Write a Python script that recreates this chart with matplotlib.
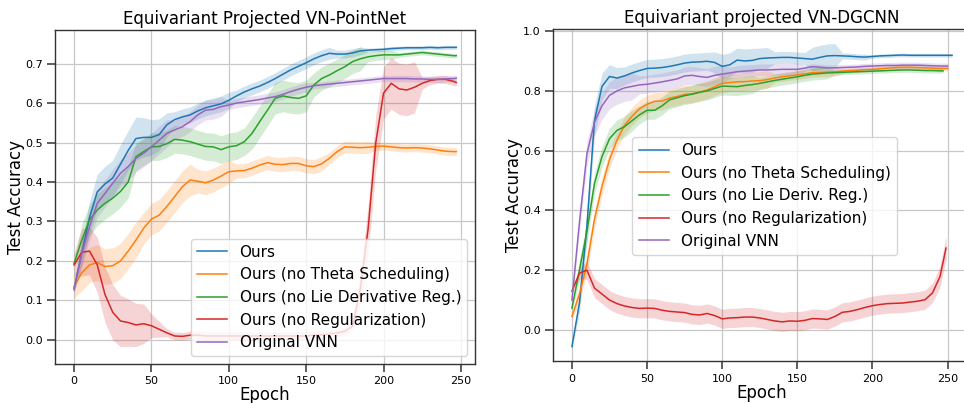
import matplotlib
matplotlib.use("Agg")
import matplotlib.pyplot as plt
import numpy as np

# ---- data (every 5 epochs) ----
labels_left = ["Ours", "Ours (no Theta Scheduling)", "Ours (no Lie Derivative Reg.)",
               "Ours (no Regularization)", "Original VNN"]
labels_right = ["Ours", "Ours (no Theta Scheduling)", "Ours (no Lie Deriv. Reg.)",
                "Ours (no Regularization)", "Original VNN"]
colors = ["#1f77b4", "#ff7f0e", "#2ca02c", "#d62728", "#9467bd"]

ep_left = np.append(np.arange(0, 246, 5), 247)

left_ours = [0.13, 0.22, 0.31, 0.375, 0.395, 0.41, 0.445, 0.48, 0.51, 0.513,
             0.513, 0.52, 0.545, 0.558, 0.565, 0.57, 0.58, 0.588, 0.593, 0.598,
             0.607, 0.618, 0.628, 0.636, 0.643, 0.652, 0.662, 0.673, 0.684, 0.693,
             0.702, 0.712, 0.72, 0.726, 0.724, 0.724, 0.727, 0.732, 0.734, 0.735,
             0.736, 0.738, 0.739, 0.74, 0.74, 0.74, 0.741, 0.74, 0.741, 0.741, 0.741]
left_ours_sd = [0.01, 0.03, 0.04, 0.045, 0.045, 0.045, 0.05, 0.05, 0.055, 0.05,
                0.045, 0.04, 0.03, 0.02, 0.02, 0.02, 0.02, 0.02, 0.02, 0.02,
                0.02, 0.015, 0.015, 0.015, 0.015, 0.015, 0.015, 0.015, 0.015, 0.015,
                0.015, 0.015, 0.015, 0.015, 0.01, 0.01, 0.01, 0.01, 0.005, 0.005,
                0.005, 0.005, 0.005, 0.005, 0.005, 0.005, 0.005, 0.005, 0.005, 0.005, 0.005]

left_theta = [0.135, 0.17, 0.19, 0.196, 0.186, 0.188, 0.2, 0.225, 0.253, 0.283,
              0.306, 0.316, 0.338, 0.363, 0.388, 0.405, 0.402, 0.398, 0.405, 0.415,
              0.426, 0.428, 0.429, 0.435, 0.443, 0.449, 0.445, 0.444, 0.447, 0.447,
              0.441, 0.439, 0.446, 0.46, 0.477, 0.489, 0.488, 0.487, 0.488, 0.49,
              0.491, 0.489, 0.487, 0.486, 0.487, 0.486, 0.484, 0.481, 0.478, 0.477, 0.477]
left_theta_sd = [0.03, 0.045, 0.045, 0.045, 0.045, 0.045, 0.045, 0.045, 0.045, 0.04,
                 0.04, 0.04, 0.04, 0.04, 0.04, 0.04, 0.03, 0.03, 0.03, 0.03,
                 0.03, 0.018, 0.018, 0.018, 0.018, 0.018, 0.018, 0.018, 0.018, 0.018,
                 0.018, 0.018, 0.018, 0.015, 0.015, 0.015, 0.015, 0.015, 0.015, 0.01,
                 0.01, 0.01, 0.01, 0.01, 0.01, 0.01, 0.01, 0.01, 0.01, 0.01, 0.01]

left_lie = [0.194, 0.253, 0.304, 0.329, 0.346, 0.359, 0.376, 0.40, 0.464, 0.477,
            0.489, 0.49, 0.497, 0.508, 0.506, 0.502, 0.496, 0.49, 0.489, 0.482,
            0.489, 0.492, 0.502, 0.523, 0.553, 0.582, 0.612, 0.618, 0.614, 0.612,
            0.618, 0.646, 0.662, 0.671, 0.682, 0.692, 0.705, 0.712, 0.717, 0.72,
            0.722, 0.722, 0.722, 0.724, 0.726, 0.728, 0.726, 0.724, 0.722, 0.72, 0.72]
left_lie_sd = [0.01, 0.04, 0.04, 0.04, 0.04, 0.04, 0.04, 0.04, 0.035, 0.035,
               0.035, 0.035, 0.035, 0.035, 0.035, 0.035, 0.035, 0.035, 0.035, 0.035,
               0.035, 0.035, 0.035, 0.04, 0.04, 0.04, 0.04, 0.04, 0.04, 0.04,
               0.04, 0.03, 0.03, 0.03, 0.03, 0.03, 0.03, 0.03, 0.012, 0.012,
               0.012, 0.012, 0.006, 0.006, 0.006, 0.006, 0.006, 0.006, 0.006, 0.006, 0.006]

left_noreg = [0.19, 0.222, 0.225, 0.19, 0.115, 0.07, 0.048, 0.044, 0.038, 0.041,
              0.036, 0.027, 0.018, 0.01, 0.009, 0.012, 0.012, 0.01, 0.01, 0.01,
              0.01, 0.01, 0.01, 0.01, 0.01, 0.01, 0.01, 0.01, 0.01, 0.01,
              0.01, 0.012, 0.013, 0.015, 0.018, 0.022, 0.035, 0.13, 0.28, 0.50,
              0.625, 0.65, 0.636, 0.633, 0.64, 0.65, 0.657, 0.66, 0.66, 0.655, 0.652]
left_noreg_sd = [0.03, 0.06, 0.06, 0.07, 0.07, 0.07, 0.065, 0.06, 0.055, 0.05,
                 0.03, 0.02, 0.01, 0.01, 0.01, 0.01, 0.01, 0.01, 0.01, 0.01,
                 0.01, 0.01, 0.01, 0.01, 0.01, 0.01, 0.01, 0.01, 0.01, 0.01,
                 0.01, 0.01, 0.01, 0.01, 0.01, 0.01, 0.01, 0.04, 0.06, 0.07,
                 0.065, 0.065, 0.065, 0.065, 0.065, 0.015, 0.01, 0.01, 0.01, 0.01, 0.01]

left_vnn = [0.127, 0.219, 0.287, 0.346, 0.371, 0.397, 0.422, 0.439, 0.46, 0.473,
            0.489, 0.506, 0.523, 0.532, 0.54, 0.553, 0.57, 0.582, 0.584, 0.591,
            0.595, 0.6, 0.603, 0.606, 0.609, 0.613, 0.616, 0.622, 0.629, 0.635,
            0.64, 0.644, 0.646, 0.648, 0.65, 0.652, 0.654, 0.656, 0.658, 0.66,
            0.662, 0.662, 0.662, 0.662, 0.661, 0.661, 0.66, 0.66, 0.661, 0.662, 0.663]
left_vnn_sd = [0.01, 0.035, 0.035, 0.035, 0.035, 0.035, 0.035, 0.035, 0.035, 0.035,
               0.035, 0.035, 0.035, 0.025, 0.025, 0.025, 0.025, 0.025, 0.025, 0.025,
               0.012, 0.012, 0.012, 0.012, 0.012, 0.012, 0.012, 0.012, 0.012, 0.012,
               0.012, 0.008, 0.008, 0.008, 0.008, 0.008, 0.008, 0.008, 0.008, 0.008,
               0.008, 0.008, 0.008, 0.008, 0.008, 0.008, 0.008, 0.008, 0.008, 0.008, 0.008]

ep_right = np.arange(0, 246, 5)
right_end = [253, 250, 247, 249, 250]

right_ours = [-0.056, 0.09, 0.35, 0.70, 0.815, 0.848, 0.843, 0.85, 0.86, 0.868,
              0.875, 0.876, 0.878, 0.882, 0.887, 0.893, 0.896, 0.897, 0.899, 0.895,
              0.882, 0.887, 0.903, 0.9, 0.902, 0.908, 0.91, 0.911, 0.912, 0.912,
              0.91, 0.908, 0.906, 0.912, 0.917, 0.918, 0.917, 0.916, 0.914, 0.913,
              0.915, 0.917, 0.918, 0.919, 0.92, 0.919, 0.919, 0.919, 0.919, 0.919, 0.919]
right_ours_sd = [0.01, 0.03, 0.05, 0.05, 0.045, 0.04, 0.035, 0.03, 0.03, 0.03,
                 0.03, 0.03, 0.03, 0.03, 0.03, 0.03, 0.03, 0.03, 0.03, 0.035,
                 0.04, 0.04, 0.04, 0.04, 0.04, 0.035, 0.035, 0.02, 0.02, 0.02,
                 0.02, 0.02, 0.04, 0.04, 0.04, 0.04, 0.01, 0.01, 0.01, 0.01,
                 0.006, 0.006, 0.006, 0.006, 0.006, 0.006, 0.006, 0.006, 0.006, 0.006, 0.006]

right_theta = [0.045, 0.12, 0.22, 0.37, 0.48, 0.57, 0.635, 0.685, 0.715, 0.74,
               0.755, 0.765, 0.766, 0.776, 0.781, 0.788, 0.79, 0.796, 0.803, 0.814,
               0.825, 0.828, 0.83, 0.831, 0.833, 0.834, 0.838, 0.843, 0.847, 0.85,
               0.853, 0.857, 0.861, 0.862, 0.863, 0.864, 0.866, 0.868, 0.869, 0.871,
               0.872, 0.874, 0.876, 0.878, 0.879, 0.879, 0.878, 0.877, 0.876, 0.875, 0.875]
right_theta_sd = [0.01, 0.03, 0.03, 0.03, 0.03, 0.03, 0.03, 0.03, 0.03, 0.03,
                  0.03, 0.03, 0.03, 0.03, 0.03, 0.03, 0.03, 0.03, 0.03, 0.03,
                  0.03, 0.03, 0.03, 0.03, 0.03, 0.03, 0.03, 0.015, 0.015, 0.015,
                  0.015, 0.015, 0.015, 0.015, 0.015, 0.015, 0.008, 0.008, 0.008, 0.008,
                  0.008, 0.008, 0.008, 0.008, 0.008, 0.008, 0.008, 0.008, 0.008, 0.008, 0.008]

right_lie = [0.073, 0.2, 0.33, 0.49, 0.58, 0.64, 0.668, 0.68, 0.70, 0.72,
             0.735, 0.735, 0.75, 0.77, 0.777, 0.784, 0.789, 0.795, 0.80, 0.808,
             0.816, 0.815, 0.814, 0.818, 0.821, 0.825, 0.83, 0.835, 0.839, 0.843,
             0.847, 0.852, 0.856, 0.858, 0.86, 0.861, 0.862, 0.863, 0.864, 0.865,
             0.866, 0.867, 0.868, 0.869, 0.87, 0.87, 0.869, 0.868, 0.868, 0.867, 0.867]
right_lie_sd = [0.01, 0.035, 0.035, 0.035, 0.035, 0.035, 0.035, 0.035, 0.035, 0.03,
                0.03, 0.03, 0.03, 0.03, 0.03, 0.03, 0.03, 0.03, 0.03, 0.03,
                0.03, 0.03, 0.03, 0.03, 0.03, 0.02, 0.02, 0.02, 0.02, 0.02,
                0.02, 0.02, 0.02, 0.02, 0.02, 0.008, 0.008, 0.008, 0.008, 0.008,
                0.008, 0.008, 0.008, 0.008, 0.008, 0.008, 0.008, 0.008, 0.008, 0.008, 0.008]

right_noreg = [0.13, 0.19, 0.20, 0.14, 0.12, 0.10, 0.088, 0.08, 0.075, 0.072,
               0.073, 0.072, 0.066, 0.062, 0.06, 0.058, 0.052, 0.05, 0.055, 0.048,
               0.037, 0.04, 0.041, 0.043, 0.043, 0.04, 0.035, 0.03, 0.027, 0.03,
               0.029, 0.032, 0.038, 0.037, 0.035, 0.045, 0.059, 0.062, 0.068, 0.075,
               0.081, 0.085, 0.088, 0.089, 0.09, 0.093, 0.096, 0.101, 0.124, 0.179, 0.274]
right_noreg_sd = [0.01, 0.02, 0.03] + [0.032] * 46 + [0.035, 0.04]

right_vnn = [0.10, 0.36, 0.59, 0.695, 0.75, 0.785, 0.80, 0.81, 0.815, 0.82,
             0.822, 0.826, 0.83, 0.835, 0.84, 0.85, 0.852, 0.848, 0.845, 0.852,
             0.856, 0.86, 0.864, 0.866, 0.868, 0.87, 0.87, 0.871, 0.872, 0.872,
             0.872, 0.876, 0.881, 0.879, 0.877, 0.877, 0.878, 0.879, 0.88, 0.882,
             0.883, 0.884, 0.885, 0.885, 0.886, 0.886, 0.886, 0.885, 0.884, 0.883, 0.883]
right_vnn_sd = [0.01, 0.03, 0.04, 0.045, 0.045, 0.045, 0.045, 0.045, 0.045, 0.03,
                0.03, 0.03, 0.03, 0.03, 0.03, 0.03, 0.03, 0.03, 0.03, 0.03,
                0.03, 0.02, 0.02, 0.02, 0.02, 0.02, 0.02, 0.02, 0.02, 0.02,
                0.02, 0.01, 0.01, 0.01, 0.01, 0.01, 0.01, 0.01, 0.01, 0.01,
                0.01, 0.01, 0.01, 0.01, 0.01, 0.01, 0.01, 0.01, 0.01, 0.01, 0.01]

left_series = [(left_ours, left_ours_sd), (left_theta, left_theta_sd), (left_lie, left_lie_sd),
               (left_noreg, left_noreg_sd), (left_vnn, left_vnn_sd)]
right_series = [(right_ours, right_ours_sd), (right_theta, right_theta_sd), (right_lie, right_lie_sd),
                (right_noreg, right_noreg_sd), (right_vnn, right_vnn_sd)]

plt.rcParams["font.family"] = ["DejaVu Sans"]

fig = plt.figure(figsize=(9.64, 4.03), dpi=100)


def style(ax):
    ax.grid(True, color="#c8c8c8", linewidth=0.9)
    ax.set_axisbelow(True)
    for s in ax.spines.values():
        s.set_color("#333333")
        s.set_linewidth(1.0)
    ax.tick_params(direction="out", length=6, width=1.1, color="#333333",
                   labelsize=8, pad=3)


def draw(ax, xs_list, series, labels):
    for (m, sd), x, lab, c in zip(series, xs_list, labels, colors):
        m = np.array(m)
        sd = np.array(sd)
        ax.fill_between(x, m - sd, m + sd, color=c, alpha=0.2, linewidth=0)
        ax.plot(x, m, color=c, linewidth=1.1, label=lab)


ax1 = fig.add_axes([55 / 964, 39 / 403, 420 / 964, 334 / 403])
draw(ax1, [ep_left] * 5, left_series, labels_left)
style(ax1)
ax1.set_xlim(-12.3, 259.1)
ax1.set_ylim(-0.061, 0.785)
ax1.set_xticks([0, 50, 100, 150, 200, 250])
ax1.set_yticks(np.arange(0, 0.71, 0.1))
ax1.set_yticklabels(["0.0", "0.1", "0.2", "0.3", "0.4", "0.5", "0.6", "0.7"])
ax1.set_title("Equivariant Projected VN-PointNet", fontsize=12, pad=4)
ax1.set_xlabel("Epoch", fontsize=12, labelpad=0)
ax1.set_ylabel("Test Accuracy", fontsize=12, labelpad=0)
ax1.legend(loc="lower right", fontsize=11, frameon=True)

ax2 = fig.add_axes([553 / 964, 42 / 403, 418 / 964, 332 / 403])
draw(ax2, [np.append(ep_right, e) for e in right_end], right_series, labels_right)
style(ax2)
ax2.set_xlim(-12.6, 265.6)
ax2.set_ylim(-0.104, 1.007)
ax2.set_xticks([0, 50, 100, 150, 200, 250])
ax2.set_yticks([0.0, 0.2, 0.4, 0.6, 0.8, 1.0])
ax2.set_yticklabels(["0.0", "0.2", "0.4", "0.6", "0.8", "1.0"])
ax2.set_title("Equivariant projected VN-DGCNN", fontsize=12, pad=4)
ax2.set_xlabel("Epoch", fontsize=12, labelpad=0)
ax2.set_ylabel("Test Accuracy", fontsize=12, labelpad=0)
ax2.legend(loc="lower left", bbox_to_anchor=(0.19, 0.32), borderaxespad=0,
           fontsize=11, frameon=True)

fig.savefig("out.png", dpi=100)
